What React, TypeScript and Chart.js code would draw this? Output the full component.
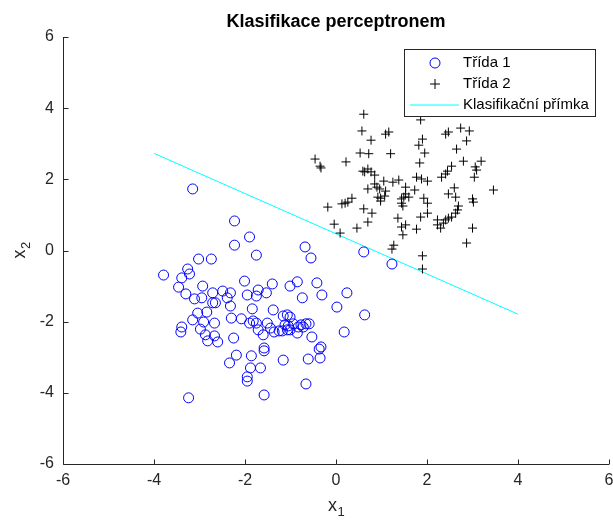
import React, { useEffect, useRef } from "react";
import { Chart, registerables } from "chart.js";

Chart.register(...registerables);

const chartTitle = "Klasifikace perceptronem";
const seriesLabels = ["Třída 1", "Třída 2", "Klasifikační přímka"];
const xTicks = [-6, -4, -2, 0, 2, 4, 6];
const yTicks = [-6, -4, -2, 0, 2, 4, 6];

const class1X = [
  -3.15, -2.23, -1.9, -2.23, -1.75, -0.68, -0.55, -3.02, -2.74, -3.79, -3.26, -3.22, -3.39, -3.46, -2.93,
  -3.3, -3.11, -2.95, -2.71, -2.71, -3.04, -2.84, -3.15, -2.91, -3.39, -3.41, -2.98, -2.87, -2.82, -2.67,
  -2.67, -2.6, -3.24, -2.01, -1.4, -1.01, -0.85, -0.42, 0.24, -0.31, -0.74, -1.95, -1.75, -1.71, -1.53,
  -2.49, -2.32, -2.39, -2.32, -2.65, -1.84, -1.38, 0.02, -2.3, -2.08, -1.9, -1.82, -1.51, -1.44, -1.16,
  -1.07, -1.01, -1.12, -1.05, -0.94, -0.83, -0.77, -0.66, -0.59, -1.18, -1.07, -1.01, -0.85, -0.72, -1.36,
  -1.25, -0.53, -1.71, -1.6, 0.18, -2.25, -0.37, -0.35, -0.61, -1.16, -1.58, -1.86, -2.19, -2.34, -1.88,
  -1.66, -1.95, -1.95, -0.66, -1.58, -1.58, -0.33, -1.75, 0.61, 1.23, 0.63,
];
const class1Y = [
  1.73, 0.83, 0.38, 0.15, -0.13, 0.1, -0.21, -0.24, -0.24, -0.69, -0.52, -0.66, -0.77, -1.03, -1.0,
  -1.22, -1.36, -1.33, -1.19, -1.47, -1.76, -1.73, -1.95, -2.01, -2.15, -2.29, -2.21, -2.37, -2.54, -2.04,
  -2.4, -2.57, -4.14, -0.86, -0.94, -1.0, -0.88, -0.91, -1.19, -1.25, -1.33, -1.25, -1.28, -1.11, -1.19,
  -1.14, -1.19, -1.33, -1.56, -1.47, -1.64, -1.67, -1.59, -1.9, -1.92, -2.04, -1.98, -2.04, -2.18, -1.84,
  -1.81, -1.87, -2.09, -2.12, -2.06, -2.15, -2.09, -2.06, -2.06, -2.26, -2.23, -2.23, -2.32, -2.15, -2.29,
  -2.26, -2.43, -2.23, -2.37, -2.29, -2.46, -2.77, -3.02, -3.05, -3.08, -2.82, -2.96, -2.94, -3.16, -3.3,
  -3.3, -3.55, -3.67, -3.75, -4.06, -2.74, -2.71, -2.04, -0.04, -0.38, -1.81,
];

const class2X = [
  0.61, 0.57, 1.16, 1.09, 0.77, 0.53, 0.72, 1.2, -0.46, -0.35, -0.33, 0.22, 0.59, 0.7, 0.63,
  0.77, 0.85, 0.85, 1.05, 1.25, 1.38, 1.53, 1.73, 1.77, 0.7, 0.9, 0.96, 1.09, 0.92, 0.98,
  0.98, 1.07, 1.49, 1.53, 1.44, 1.47, 0.35, 0.26, 0.13, 0.2, -0.18, 0.61, 0.79, 0.7, 1.36,
  1.44, 1.53, 1.47, 1.77, -0.04, 0.09, 0.46, 1.27, 1.23, 1.86, 2.47, 2.41, 2.74, 2.93, 2.87,
  1.9, 1.82, 1.95, 2.65, 1.84, 2.8, 3.06, 3.19, 3.09, 3.04, 2.54, 2.45, 2.41, 2.32, 1.88,
  2.01, 3.46, 2.6, 2.47, 2.63, 3.0, 3.02, 1.6, 1.44, 1.93, 2.01, 2.01, 2.69, 2.67, 2.63,
  2.54, 2.47, 2.41, 2.36, 2.23, 2.23, 2.3, 1.86, 3.0, 2.87, 1.9, 1.9,
];
const class2Y = [
  3.83, 3.36, 3.33, 3.27, 3.1, 2.74, 2.72, 2.72, 2.57, 2.37, 2.32, 2.49, 2.23, 2.29, 2.21,
  2.21, 2.12, 1.87, 1.95, 1.92, 1.98, 1.78, 1.7, 2.06, 1.73, 1.78, 1.73, 1.67, 1.5, 1.47,
  1.39, 1.53, 1.5, 1.59, 1.33, 1.25, 1.47, 1.36, 1.31, 1.33, 1.22, 1.17, 1.05, 0.8, 0.91,
  0.66, 0.72, 0.44, 0.6, 0.74, 0.49, 0.63, 0.15, 0.04, 3.67, 3.33, 3.27, 3.44, 3.36, 3.08,
  3.13, 2.96, 2.74, 2.85, 2.46, 2.51, 2.35, 2.51, 2.26, 2.06, 2.37, 2.23, 2.15, 2.06, 2.01,
  1.95, 1.7, 1.76, 1.59, 1.5, 1.45, 1.36, 1.5, 1.45, 1.47, 1.33, 1.05, 1.25, 1.14, 1.05,
  0.94, 0.91, 0.86, 0.77, 0.86, 0.72, 0.63, 0.94, 0.63, 0.21, -0.15, -0.52,
];

const lineX = [-4, 4];
const lineY = [2.73, -1.79];

const AXIS_COLOR = "#262626";
const FONT = "'Liberation Sans', Arial, Helvetica, sans-serif";

function drawSubLabel(ctx: CanvasRenderingContext2D, main: string, sub: string, cx: number, baseline: number) {
  ctx.font = `18px ${FONT}`;
  const w1 = ctx.measureText(main).width;
  ctx.font = `13px ${FONT}`;
  const w2 = ctx.measureText(sub).width;
  const start = cx - (w1 + w2) / 2;
  ctx.textBaseline = "alphabetic";
  ctx.textAlign = "left";
  ctx.font = `18px ${FONT}`;
  ctx.fillText(main, start, baseline);
  ctx.font = `13px ${FONT}`;
  ctx.fillText(sub, start + w1 + 0.5, baseline + 5);
}

const matlabPlugin = {
  id: "matlabDecor",
  afterDraw(chart: any) {
    const { ctx, chartArea: a, scales } = chart;
    const xs = scales.x;
    const ys = scales.y;
    ctx.save();
    ctx.strokeStyle = AXIS_COLOR;
    ctx.lineWidth = 1;
    const L = Math.round(a.left) + 0.5;
    const B = Math.round(a.bottom) + 0.5;
    ctx.beginPath();
    ctx.moveTo(L, Math.round(a.top));
    ctx.lineTo(L, B);
    ctx.lineTo(Math.round(a.right), B);
    for (const v of xTicks) {
      const px = Math.round(xs.getPixelForValue(v)) + 0.5;
      ctx.moveTo(px, B);
      ctx.lineTo(px, B - 5);
    }
    for (const v of yTicks) {
      const py = Math.round(ys.getPixelForValue(v)) + 0.5;
      ctx.moveTo(L, py);
      ctx.lineTo(L + 5, py);
    }
    ctx.stroke();

    ctx.fillStyle = "#000000";
    ctx.font = `bold 18px ${FONT}`;
    ctx.textAlign = "center";
    ctx.textBaseline = "alphabetic";
    ctx.fillText(chartTitle, (a.left + a.right) / 2, 27);

    ctx.fillStyle = AXIS_COLOR;
    drawSubLabel(ctx, "x", "1", (a.left + a.right) / 2, 511);
    ctx.save();
    ctx.translate(25, (a.top + a.bottom) / 2);
    ctx.rotate(-Math.PI / 2);
    drawSubLabel(ctx, "x", "2", 0, 0);
    ctx.restore();

    const bx = 404.5, by = 49.5, bw = 191, bh = 67;
    ctx.fillStyle = "#ffffff";
    ctx.fillRect(bx, by, bw, bh);
    ctx.strokeStyle = AXIS_COLOR;
    ctx.lineWidth = 1;
    ctx.strokeRect(bx, by, bw, bh);
    const ds = chart.data.datasets;
    const rows = [63, 84, 105];
    const symX = 435;
    ctx.beginPath();
    ctx.strokeStyle = ds[0].borderColor;
    ctx.arc(symX, rows[0], 5, 0, Math.PI * 2);
    ctx.stroke();
    ctx.beginPath();
    ctx.strokeStyle = ds[1].borderColor;
    ctx.moveTo(symX - 5, rows[1]);
    ctx.lineTo(symX + 5, rows[1]);
    ctx.moveTo(symX, rows[1] - 5);
    ctx.lineTo(symX, rows[1] + 5);
    ctx.stroke();
    ctx.beginPath();
    ctx.strokeStyle = ds[2].borderColor;
    ctx.moveTo(410, rows[2]);
    ctx.lineTo(459, rows[2]);
    ctx.stroke();
    ctx.fillStyle = "#000000";
    ctx.font = `15px ${FONT}`;
    ctx.textAlign = "left";
    ctx.textBaseline = "middle";
    seriesLabels.forEach((t, i) => ctx.fillText(t, 463, rows[i]));
    ctx.restore();
  },
};

export default function App() {
  const ref = useRef<HTMLCanvasElement | null>(null);
  useEffect(() => {
    if (!ref.current) return;
    const chart = new Chart(ref.current, {
      type: "scatter",
      data: {
        datasets: [
          {
            label: seriesLabels[0],
            data: class1X.map((x, i) => ({ x, y: class1Y[i] })),
            pointStyle: "circle",
            pointRadius: 5,
            pointBorderWidth: 1,
            borderColor: "#0000ff",
            backgroundColor: "rgba(0,0,0,0)",
            pointBackgroundColor: "rgba(0,0,0,0)",
            pointBorderColor: "#0000ff",
          },
          {
            label: seriesLabels[1],
            data: class2X.map((x, i) => ({ x, y: class2Y[i] })),
            pointStyle: "cross",
            pointRadius: 4.5,
            pointBorderWidth: 1,
            borderColor: "#000000",
            pointBorderColor: "#000000",
            backgroundColor: "#000000",
          },
          {
            type: "line",
            label: seriesLabels[2],
            data: lineX.map((x, i) => ({ x, y: lineY[i] })),
            showLine: true,
            borderColor: "#00ffff",
            borderWidth: 1,
            pointRadius: 0,
            fill: false,
          } as any,
        ],
      },
      options: {
        animation: false,
        responsive: false,
        devicePixelRatio: 1,
        layout: { autoPadding: false, padding: { top: 37, right: 4, left: 0, bottom: 0 } },
        plugins: { legend: { display: false }, title: { display: false }, tooltip: { enabled: false } },
        scales: {
          x: {
            type: "linear",
            min: -6,
            max: 6,
            afterFit: (s: any) => { s.height = 57; s.paddingLeft = 0; s.paddingRight = 0; },
            afterBuildTicks: (s: any) => { s.ticks = xTicks.map((v) => ({ value: v })); },
            grid: { display: false, drawTicks: false },
            border: { display: false },
            ticks: { color: AXIS_COLOR, font: { size: 16, family: FONT }, padding: 7, maxRotation: 0, autoSkip: false },
          },
          y: {
            type: "linear",
            min: -6,
            max: 6,
            afterFit: (s: any) => { s.width = 63; s.paddingTop = 0; s.paddingBottom = 0; },
            afterBuildTicks: (s: any) => { s.ticks = yTicks.map((v) => ({ value: v })); },
            grid: { display: false, drawTicks: false },
            border: { display: false },
            ticks: { color: AXIS_COLOR, font: { size: 16, family: FONT }, padding: 9, autoSkip: false },
          },
        },
      },
      plugins: [matlabPlugin],
    } as any);
    return () => chart.destroy();
  }, []);
  return (
    <div style={{ position: "fixed", left: 0, top: 0, width: 613, height: 521, background: "#fff" }}>
      <canvas ref={ref} width={613} height={521} style={{ display: "block", width: 613, height: 521 }} />
    </div>
  );
}
